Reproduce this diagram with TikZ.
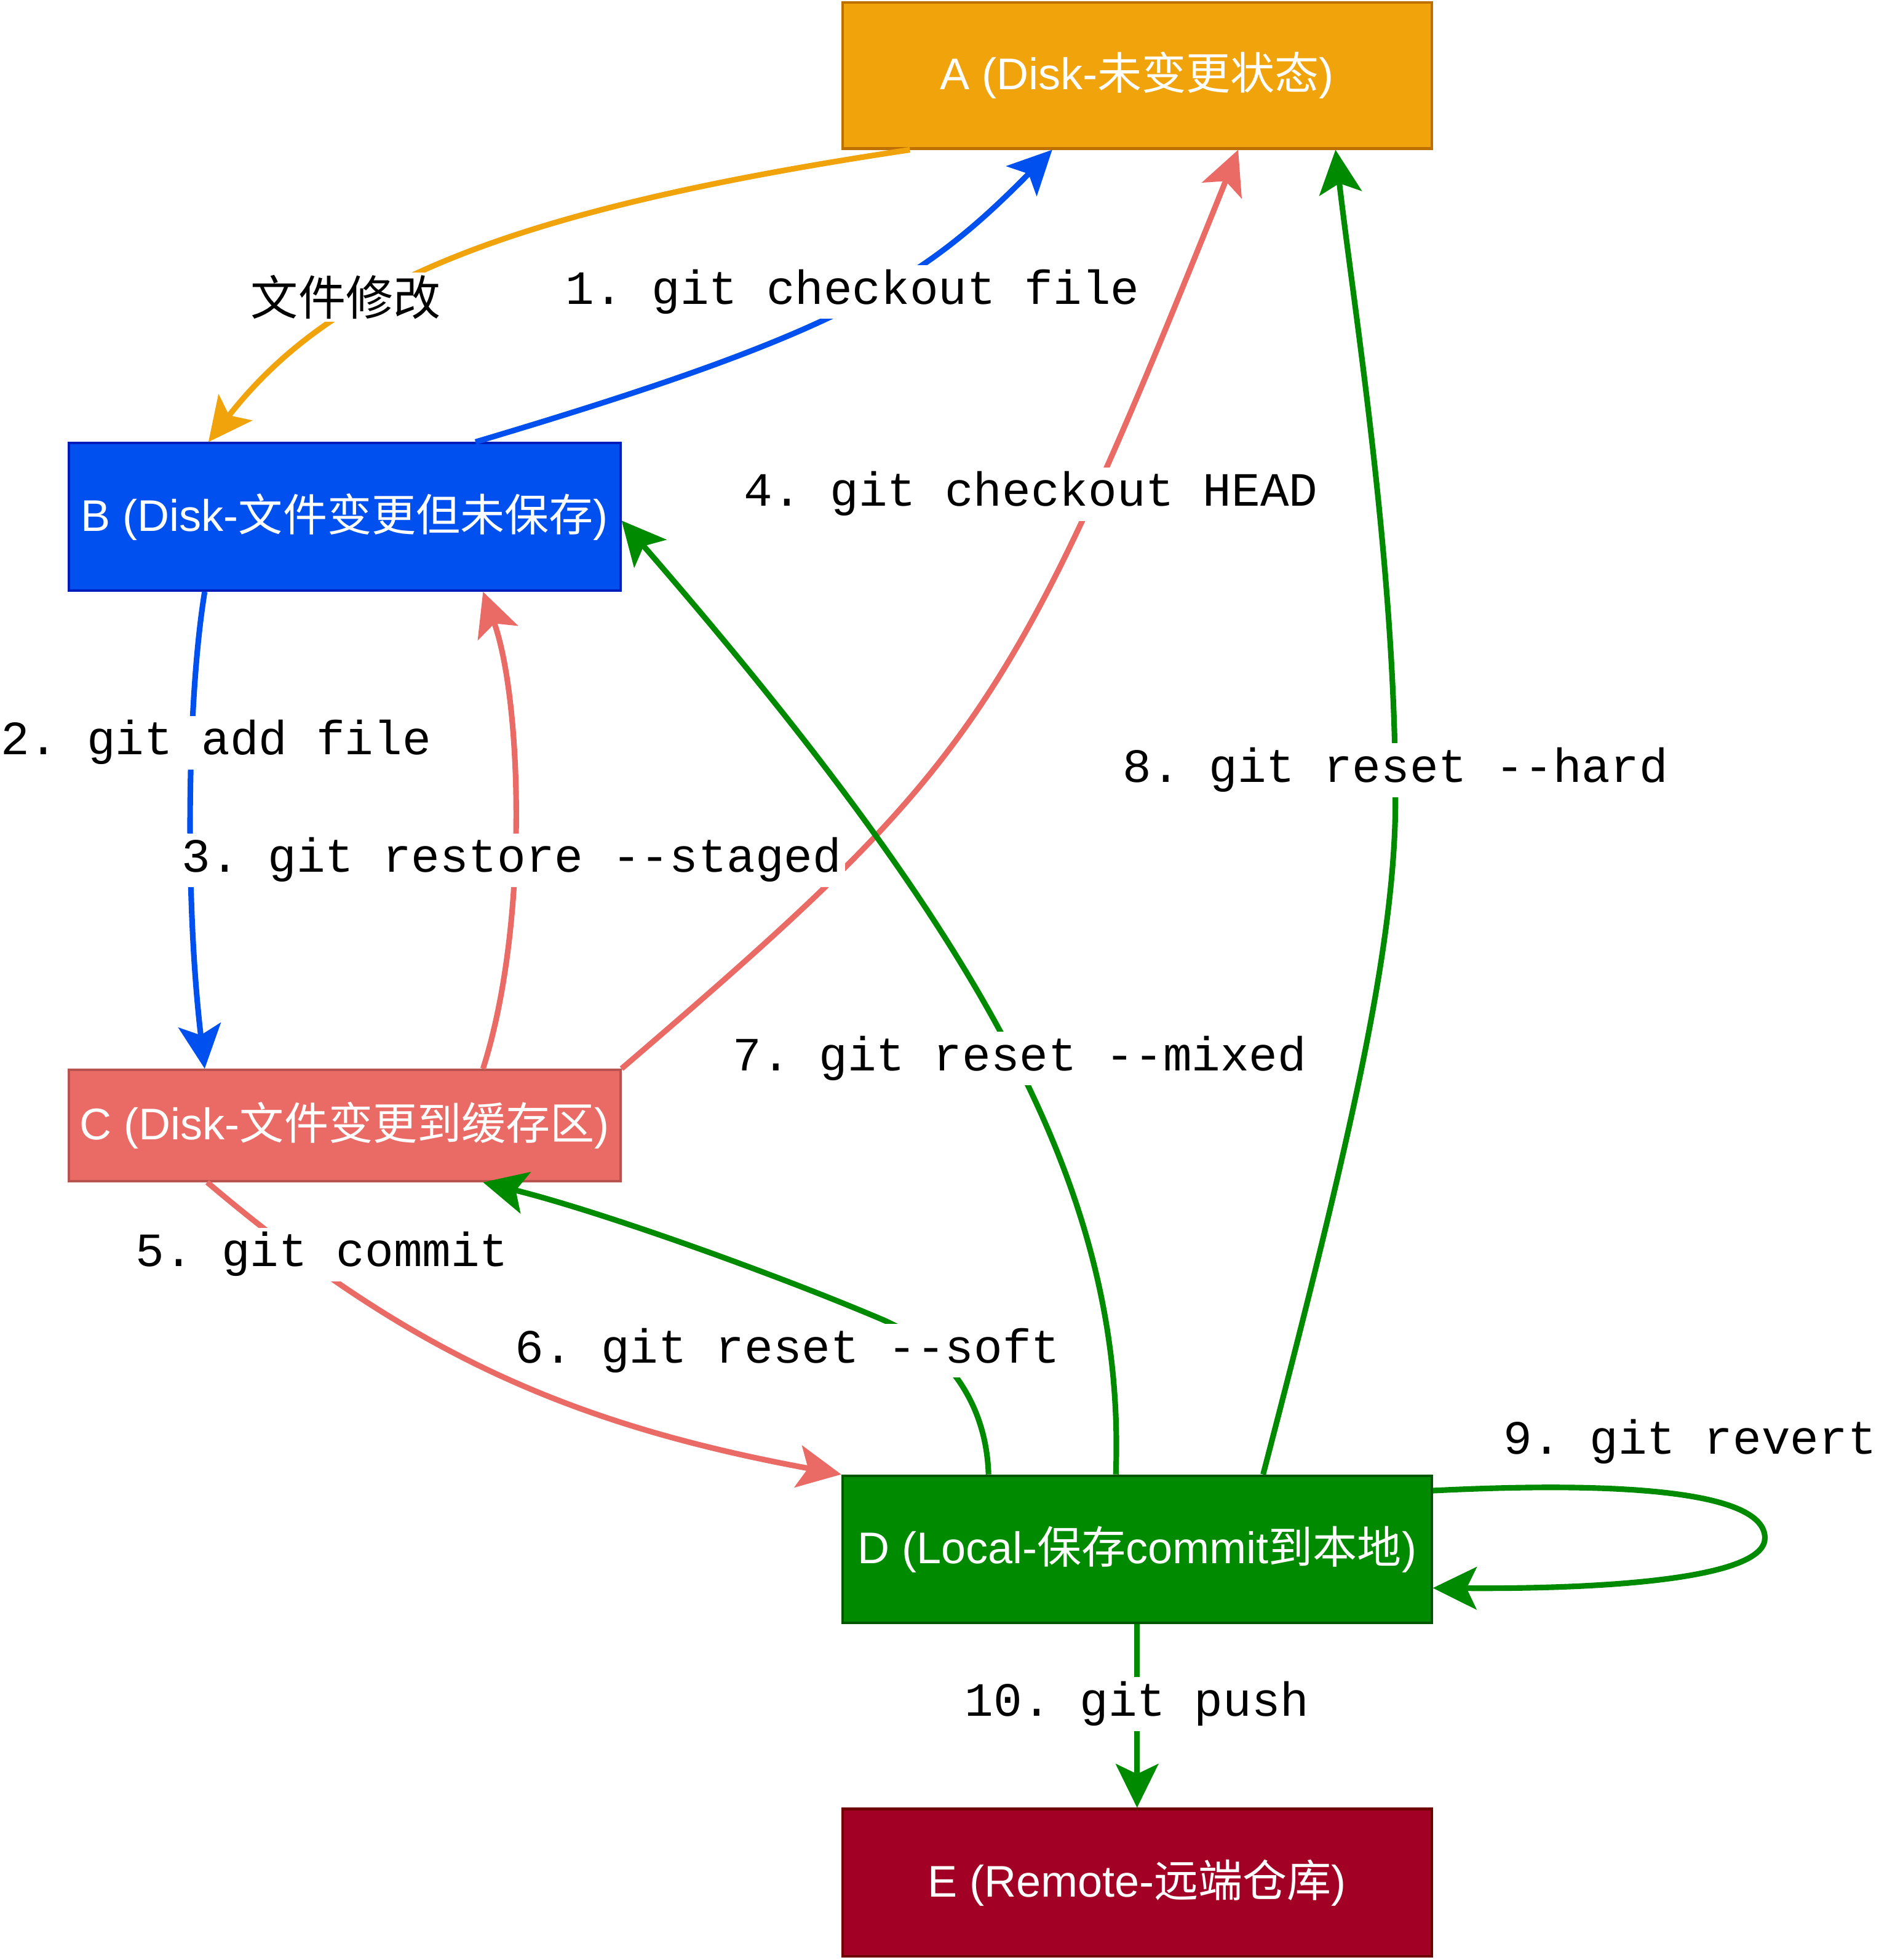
\documentclass[tikz,border=0pt]{standalone}
\usepackage{fontspec}
\setmainfont{Liberation Sans}
\setmonofont{Liberation Mono}
\newfontfamily\cjk{Noto Sans CJK SC}
\usetikzlibrary{arrows.meta}

\definecolor{orangeA}{HTML}{F0A30A}
\definecolor{orangeAline}{HTML}{BD7000}
\definecolor{blueB}{HTML}{0050EF}
\definecolor{blueBline}{HTML}{001DBC}
\definecolor{redC}{HTML}{EA6B66}
\definecolor{redCline}{HTML}{B85450}
\definecolor{greenD}{HTML}{008A00}
\definecolor{greenDline}{HTML}{005700}
\definecolor{redE}{HTML}{A20025}
\definecolor{redEline}{HTML}{6F0000}

\begin{document}
\begin{tikzpicture}
        [x=1pt, y=-1pt,
        state/.style={draw, line width=2pt, minimum width=472pt, minimum height=118pt, inner sep=0pt, text=white, font=\fontsize{35.5}{42}\selectfont},
        edge/.style={line width=4.5pt, -{Stealth[length=35pt,width=34pt,inset=8pt]}},
        cmd/.style={fill=white, inner sep=3pt, text height=28pt, text depth=9pt, font=\ttfamily\fontsize{38.3}{44}\selectfont}]

        \useasboundingbox (0,0) rectangle (1505,1570);

        \node[state, fill=orangeA, draw=orangeAline, minimum height=117pt] (A) at (911,60.5) {A (Disk-{\cjk 未变更状态})};
        \node[state, fill=blueB, draw=blueBline, minimum width=442pt] (B) at (276,414) {B (Disk-{\cjk 文件变更但未保存})};
        \node[state, fill=redC, draw=redCline, minimum width=442pt, minimum height=89pt] (C) at (276,901.5) {C (Disk-{\cjk 文件变更到缓存区})};
        \node[state, fill=greenD, draw=greenDline] (D) at (911,1241) {D (Local-{\cjk 保存}commit{\cjk 到本地})};
        \node[state, fill=redE, draw=redEline] (E) at (911,1508) {E (Remote-{\cjk 远端仓库})};

        % working tree edges
        \draw[edge, orangeA] ([xshift=55pt]A.south west) .. controls (408,168) and (266,227) .. ([xshift=113pt]B.north west);
        \draw[edge, blueB] ([xshift=327pt]B.north west) .. controls (670,268) and (737,228) .. ([xshift=169pt]A.south west);
        \draw[edge, blueB] ([xshift=110pt]B.south west) .. controls (150,560) and (148,720) .. ([xshift=110pt]C.north west);
        \draw[edge, redC] ([xshift=333pt]C.north west) .. controls (424,740) and (418,560) .. ([xshift=333pt]B.south west);
        \draw[edge, redC] (C.north east) .. controls (785,610) and (810,573) .. ([xshift=318pt]A.south west);
        \draw[edge, redC] ([xshift=112pt]C.south west) .. controls (323,1080) and (451,1140) .. (D.north west);

        % reset edges (green)
        \draw[edge, greenD] ([xshift=118pt]D.north west) .. controls (790,1120) and (755,1078) .. (707,1057) .. controls (620,1020) and (480,970) .. ([xshift=333pt]C.south west);
        \draw[edge, greenD] ([xshift=220pt]D.north west) .. controls (902,960) and (794,758) .. ([yshift=-3pt]B.east);
        \draw[edge, greenD] ([xshift=338pt]D.north west) .. controls (1080,920) and (1118,760) .. (1118,640) .. controls (1118,450) and (1085,250) .. ([xshift=396pt]A.south west);
        \draw[edge, greenD] ([yshift=47pt]D.east) .. controls (1330,1185) and (1414,1200) .. (1414,1232) .. controls (1414,1262) and (1305,1273) .. ([yshift=-31pt]D.east);
        \draw[edge, greenD] (D.south) -- (E.north);

        % labels on the edges
        \node[fill=white, inner sep=2pt, font=\cjk\fontsize{38}{44}\selectfont] (edit) at (277,238) {文件修改};
        \node[cmd] (l1) at (683,234) {1. git checkout file};
        \node[cmd] (l2) at (173,595) {2. git add file};
        \node[cmd] (l3) at (410,689) {3. git restore --staged};
        \node[cmd] (l4) at (826,396) {4. git checkout HEAD};
        \node[cmd] (l5) at (258,1005) {5. git commit};
        \node[cmd] (l6) at (631,1082) {6. git reset --soft};
        \node[cmd] (l7) at (817,848) {7. git reset --mixed};
        \node[cmd] (l8) at (1118,617) {8. git reset --hard};
        \node[cmd] (l9) at (1354,1155) {9. git revert};
        \node[cmd] (l10) at (911,1365) {10. git push};

\end{tikzpicture}
\end{document}
